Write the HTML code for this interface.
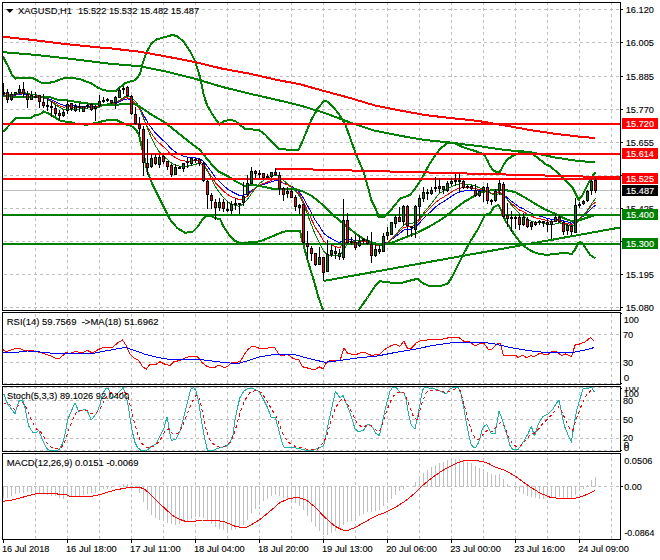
<!DOCTYPE html>
<html><head><meta charset="utf-8"><title>XAGUSD,H1</title>
<style>html,body{margin:0;padding:0;background:#fff;}svg{display:block;font-family:"Liberation Sans",sans-serif;}</style>
</head><body>
<svg width="660" height="560" viewBox="0 0 660 560">
<rect width="660" height="560" fill="#fff"/>
<g shape-rendering="crispEdges">
<line x1="35.5" y1="3" x2="35.5" y2="310" stroke="#c0c0c0" stroke-width="1" stroke-dasharray="3 3" stroke-dashoffset="1"/>
<line x1="67.5" y1="3" x2="67.5" y2="310" stroke="#c0c0c0" stroke-width="1" stroke-dasharray="3 3" stroke-dashoffset="1"/>
<line x1="99.5" y1="3" x2="99.5" y2="310" stroke="#c0c0c0" stroke-width="1" stroke-dasharray="3 3" stroke-dashoffset="1"/>
<line x1="131.5" y1="3" x2="131.5" y2="310" stroke="#c0c0c0" stroke-width="1" stroke-dasharray="3 3" stroke-dashoffset="1"/>
<line x1="163.5" y1="3" x2="163.5" y2="310" stroke="#c0c0c0" stroke-width="1" stroke-dasharray="3 3" stroke-dashoffset="1"/>
<line x1="195.5" y1="3" x2="195.5" y2="310" stroke="#c0c0c0" stroke-width="1" stroke-dasharray="3 3" stroke-dashoffset="1"/>
<line x1="227.5" y1="3" x2="227.5" y2="310" stroke="#c0c0c0" stroke-width="1" stroke-dasharray="3 3" stroke-dashoffset="1"/>
<line x1="259.5" y1="3" x2="259.5" y2="310" stroke="#c0c0c0" stroke-width="1" stroke-dasharray="3 3" stroke-dashoffset="1"/>
<line x1="291.5" y1="3" x2="291.5" y2="310" stroke="#c0c0c0" stroke-width="1" stroke-dasharray="3 3" stroke-dashoffset="1"/>
<line x1="323.5" y1="3" x2="323.5" y2="310" stroke="#c0c0c0" stroke-width="1" stroke-dasharray="3 3" stroke-dashoffset="1"/>
<line x1="355.5" y1="3" x2="355.5" y2="310" stroke="#c0c0c0" stroke-width="1" stroke-dasharray="3 3" stroke-dashoffset="1"/>
<line x1="387.5" y1="3" x2="387.5" y2="310" stroke="#c0c0c0" stroke-width="1" stroke-dasharray="3 3" stroke-dashoffset="1"/>
<line x1="419.5" y1="3" x2="419.5" y2="310" stroke="#c0c0c0" stroke-width="1" stroke-dasharray="3 3" stroke-dashoffset="1"/>
<line x1="451.5" y1="3" x2="451.5" y2="310" stroke="#c0c0c0" stroke-width="1" stroke-dasharray="3 3" stroke-dashoffset="1"/>
<line x1="483.5" y1="3" x2="483.5" y2="310" stroke="#c0c0c0" stroke-width="1" stroke-dasharray="3 3" stroke-dashoffset="1"/>
<line x1="515.5" y1="3" x2="515.5" y2="310" stroke="#c0c0c0" stroke-width="1" stroke-dasharray="3 3" stroke-dashoffset="1"/>
<line x1="547.5" y1="3" x2="547.5" y2="310" stroke="#c0c0c0" stroke-width="1" stroke-dasharray="3 3" stroke-dashoffset="1"/>
<line x1="579.5" y1="3" x2="579.5" y2="310" stroke="#c0c0c0" stroke-width="1" stroke-dasharray="3 3" stroke-dashoffset="1"/>
<line x1="611.5" y1="3" x2="611.5" y2="310" stroke="#c0c0c0" stroke-width="1" stroke-dasharray="3 3" stroke-dashoffset="1"/>
<line x1="35.5" y1="313" x2="35.5" y2="384" stroke="#c0c0c0" stroke-width="1" stroke-dasharray="3 3" stroke-dashoffset="5"/>
<line x1="67.5" y1="313" x2="67.5" y2="384" stroke="#c0c0c0" stroke-width="1" stroke-dasharray="3 3" stroke-dashoffset="5"/>
<line x1="99.5" y1="313" x2="99.5" y2="384" stroke="#c0c0c0" stroke-width="1" stroke-dasharray="3 3" stroke-dashoffset="5"/>
<line x1="131.5" y1="313" x2="131.5" y2="384" stroke="#c0c0c0" stroke-width="1" stroke-dasharray="3 3" stroke-dashoffset="5"/>
<line x1="163.5" y1="313" x2="163.5" y2="384" stroke="#c0c0c0" stroke-width="1" stroke-dasharray="3 3" stroke-dashoffset="5"/>
<line x1="195.5" y1="313" x2="195.5" y2="384" stroke="#c0c0c0" stroke-width="1" stroke-dasharray="3 3" stroke-dashoffset="5"/>
<line x1="227.5" y1="313" x2="227.5" y2="384" stroke="#c0c0c0" stroke-width="1" stroke-dasharray="3 3" stroke-dashoffset="5"/>
<line x1="259.5" y1="313" x2="259.5" y2="384" stroke="#c0c0c0" stroke-width="1" stroke-dasharray="3 3" stroke-dashoffset="5"/>
<line x1="291.5" y1="313" x2="291.5" y2="384" stroke="#c0c0c0" stroke-width="1" stroke-dasharray="3 3" stroke-dashoffset="5"/>
<line x1="323.5" y1="313" x2="323.5" y2="384" stroke="#c0c0c0" stroke-width="1" stroke-dasharray="3 3" stroke-dashoffset="5"/>
<line x1="355.5" y1="313" x2="355.5" y2="384" stroke="#c0c0c0" stroke-width="1" stroke-dasharray="3 3" stroke-dashoffset="5"/>
<line x1="387.5" y1="313" x2="387.5" y2="384" stroke="#c0c0c0" stroke-width="1" stroke-dasharray="3 3" stroke-dashoffset="5"/>
<line x1="419.5" y1="313" x2="419.5" y2="384" stroke="#c0c0c0" stroke-width="1" stroke-dasharray="3 3" stroke-dashoffset="5"/>
<line x1="451.5" y1="313" x2="451.5" y2="384" stroke="#c0c0c0" stroke-width="1" stroke-dasharray="3 3" stroke-dashoffset="5"/>
<line x1="483.5" y1="313" x2="483.5" y2="384" stroke="#c0c0c0" stroke-width="1" stroke-dasharray="3 3" stroke-dashoffset="5"/>
<line x1="515.5" y1="313" x2="515.5" y2="384" stroke="#c0c0c0" stroke-width="1" stroke-dasharray="3 3" stroke-dashoffset="5"/>
<line x1="547.5" y1="313" x2="547.5" y2="384" stroke="#c0c0c0" stroke-width="1" stroke-dasharray="3 3" stroke-dashoffset="5"/>
<line x1="579.5" y1="313" x2="579.5" y2="384" stroke="#c0c0c0" stroke-width="1" stroke-dasharray="3 3" stroke-dashoffset="5"/>
<line x1="611.5" y1="313" x2="611.5" y2="384" stroke="#c0c0c0" stroke-width="1" stroke-dasharray="3 3" stroke-dashoffset="5"/>
<line x1="35.5" y1="387" x2="35.5" y2="451" stroke="#c0c0c0" stroke-width="1" stroke-dasharray="3 3" stroke-dashoffset="1"/>
<line x1="67.5" y1="387" x2="67.5" y2="451" stroke="#c0c0c0" stroke-width="1" stroke-dasharray="3 3" stroke-dashoffset="1"/>
<line x1="99.5" y1="387" x2="99.5" y2="451" stroke="#c0c0c0" stroke-width="1" stroke-dasharray="3 3" stroke-dashoffset="1"/>
<line x1="131.5" y1="387" x2="131.5" y2="451" stroke="#c0c0c0" stroke-width="1" stroke-dasharray="3 3" stroke-dashoffset="1"/>
<line x1="163.5" y1="387" x2="163.5" y2="451" stroke="#c0c0c0" stroke-width="1" stroke-dasharray="3 3" stroke-dashoffset="1"/>
<line x1="195.5" y1="387" x2="195.5" y2="451" stroke="#c0c0c0" stroke-width="1" stroke-dasharray="3 3" stroke-dashoffset="1"/>
<line x1="227.5" y1="387" x2="227.5" y2="451" stroke="#c0c0c0" stroke-width="1" stroke-dasharray="3 3" stroke-dashoffset="1"/>
<line x1="259.5" y1="387" x2="259.5" y2="451" stroke="#c0c0c0" stroke-width="1" stroke-dasharray="3 3" stroke-dashoffset="1"/>
<line x1="291.5" y1="387" x2="291.5" y2="451" stroke="#c0c0c0" stroke-width="1" stroke-dasharray="3 3" stroke-dashoffset="1"/>
<line x1="323.5" y1="387" x2="323.5" y2="451" stroke="#c0c0c0" stroke-width="1" stroke-dasharray="3 3" stroke-dashoffset="1"/>
<line x1="355.5" y1="387" x2="355.5" y2="451" stroke="#c0c0c0" stroke-width="1" stroke-dasharray="3 3" stroke-dashoffset="1"/>
<line x1="387.5" y1="387" x2="387.5" y2="451" stroke="#c0c0c0" stroke-width="1" stroke-dasharray="3 3" stroke-dashoffset="1"/>
<line x1="419.5" y1="387" x2="419.5" y2="451" stroke="#c0c0c0" stroke-width="1" stroke-dasharray="3 3" stroke-dashoffset="1"/>
<line x1="451.5" y1="387" x2="451.5" y2="451" stroke="#c0c0c0" stroke-width="1" stroke-dasharray="3 3" stroke-dashoffset="1"/>
<line x1="483.5" y1="387" x2="483.5" y2="451" stroke="#c0c0c0" stroke-width="1" stroke-dasharray="3 3" stroke-dashoffset="1"/>
<line x1="515.5" y1="387" x2="515.5" y2="451" stroke="#c0c0c0" stroke-width="1" stroke-dasharray="3 3" stroke-dashoffset="1"/>
<line x1="547.5" y1="387" x2="547.5" y2="451" stroke="#c0c0c0" stroke-width="1" stroke-dasharray="3 3" stroke-dashoffset="1"/>
<line x1="579.5" y1="387" x2="579.5" y2="451" stroke="#c0c0c0" stroke-width="1" stroke-dasharray="3 3" stroke-dashoffset="1"/>
<line x1="611.5" y1="387" x2="611.5" y2="451" stroke="#c0c0c0" stroke-width="1" stroke-dasharray="3 3" stroke-dashoffset="1"/>
<line x1="35.5" y1="454" x2="35.5" y2="539" stroke="#c0c0c0" stroke-width="1" stroke-dasharray="3 3" stroke-dashoffset="2"/>
<line x1="67.5" y1="454" x2="67.5" y2="539" stroke="#c0c0c0" stroke-width="1" stroke-dasharray="3 3" stroke-dashoffset="2"/>
<line x1="99.5" y1="454" x2="99.5" y2="539" stroke="#c0c0c0" stroke-width="1" stroke-dasharray="3 3" stroke-dashoffset="2"/>
<line x1="131.5" y1="454" x2="131.5" y2="539" stroke="#c0c0c0" stroke-width="1" stroke-dasharray="3 3" stroke-dashoffset="2"/>
<line x1="163.5" y1="454" x2="163.5" y2="539" stroke="#c0c0c0" stroke-width="1" stroke-dasharray="3 3" stroke-dashoffset="2"/>
<line x1="195.5" y1="454" x2="195.5" y2="539" stroke="#c0c0c0" stroke-width="1" stroke-dasharray="3 3" stroke-dashoffset="2"/>
<line x1="227.5" y1="454" x2="227.5" y2="539" stroke="#c0c0c0" stroke-width="1" stroke-dasharray="3 3" stroke-dashoffset="2"/>
<line x1="259.5" y1="454" x2="259.5" y2="539" stroke="#c0c0c0" stroke-width="1" stroke-dasharray="3 3" stroke-dashoffset="2"/>
<line x1="291.5" y1="454" x2="291.5" y2="539" stroke="#c0c0c0" stroke-width="1" stroke-dasharray="3 3" stroke-dashoffset="2"/>
<line x1="323.5" y1="454" x2="323.5" y2="539" stroke="#c0c0c0" stroke-width="1" stroke-dasharray="3 3" stroke-dashoffset="2"/>
<line x1="355.5" y1="454" x2="355.5" y2="539" stroke="#c0c0c0" stroke-width="1" stroke-dasharray="3 3" stroke-dashoffset="2"/>
<line x1="387.5" y1="454" x2="387.5" y2="539" stroke="#c0c0c0" stroke-width="1" stroke-dasharray="3 3" stroke-dashoffset="2"/>
<line x1="419.5" y1="454" x2="419.5" y2="539" stroke="#c0c0c0" stroke-width="1" stroke-dasharray="3 3" stroke-dashoffset="2"/>
<line x1="451.5" y1="454" x2="451.5" y2="539" stroke="#c0c0c0" stroke-width="1" stroke-dasharray="3 3" stroke-dashoffset="2"/>
<line x1="483.5" y1="454" x2="483.5" y2="539" stroke="#c0c0c0" stroke-width="1" stroke-dasharray="3 3" stroke-dashoffset="2"/>
<line x1="515.5" y1="454" x2="515.5" y2="539" stroke="#c0c0c0" stroke-width="1" stroke-dasharray="3 3" stroke-dashoffset="2"/>
<line x1="547.5" y1="454" x2="547.5" y2="539" stroke="#c0c0c0" stroke-width="1" stroke-dasharray="3 3" stroke-dashoffset="2"/>
<line x1="579.5" y1="454" x2="579.5" y2="539" stroke="#c0c0c0" stroke-width="1" stroke-dasharray="3 3" stroke-dashoffset="2"/>
<line x1="611.5" y1="454" x2="611.5" y2="539" stroke="#c0c0c0" stroke-width="1" stroke-dasharray="3 3" stroke-dashoffset="2"/>
<line x1="3" y1="9.5" x2="620" y2="9.5" stroke="#c0c0c0" stroke-width="1" stroke-dasharray="3 3" stroke-dashoffset="5"/>
<line x1="3" y1="42.5" x2="620" y2="42.5" stroke="#c0c0c0" stroke-width="1" stroke-dasharray="3 3" stroke-dashoffset="5"/>
<line x1="3" y1="76.5" x2="620" y2="76.5" stroke="#c0c0c0" stroke-width="1" stroke-dasharray="3 3" stroke-dashoffset="5"/>
<line x1="3" y1="109.5" x2="620" y2="109.5" stroke="#c0c0c0" stroke-width="1" stroke-dasharray="3 3" stroke-dashoffset="5"/>
<line x1="3" y1="142.5" x2="620" y2="142.5" stroke="#c0c0c0" stroke-width="1" stroke-dasharray="3 3" stroke-dashoffset="5"/>
<line x1="3" y1="175.5" x2="620" y2="175.5" stroke="#c0c0c0" stroke-width="1" stroke-dasharray="3 3" stroke-dashoffset="5"/>
<line x1="3" y1="208.5" x2="620" y2="208.5" stroke="#c0c0c0" stroke-width="1" stroke-dasharray="3 3" stroke-dashoffset="5"/>
<line x1="3" y1="241.5" x2="620" y2="241.5" stroke="#c0c0c0" stroke-width="1" stroke-dasharray="3 3" stroke-dashoffset="5"/>
<line x1="3" y1="274.5" x2="620" y2="274.5" stroke="#c0c0c0" stroke-width="1" stroke-dasharray="3 3" stroke-dashoffset="5"/>
<line x1="3" y1="307.5" x2="620" y2="307.5" stroke="#c0c0c0" stroke-width="1" stroke-dasharray="3 3" stroke-dashoffset="5"/>
<line x1="3" y1="334.5" x2="620" y2="334.5" stroke="#c0c0c0" stroke-width="1" stroke-dasharray="3 3" stroke-dashoffset="5"/>
<line x1="3" y1="362.5" x2="620" y2="362.5" stroke="#c0c0c0" stroke-width="1" stroke-dasharray="3 3" stroke-dashoffset="5"/>
<line x1="3" y1="383.5" x2="620" y2="383.5" stroke="#c0c0c0" stroke-width="1" stroke-dasharray="3 3" stroke-dashoffset="5"/>
<line x1="3" y1="387.5" x2="620" y2="387.5" stroke="#c0c0c0" stroke-width="1" stroke-dasharray="3 3" stroke-dashoffset="5"/>
<line x1="3" y1="400.5" x2="620" y2="400.5" stroke="#c0c0c0" stroke-width="1" stroke-dasharray="3 3" stroke-dashoffset="5"/>
<line x1="3" y1="419.5" x2="620" y2="419.5" stroke="#c0c0c0" stroke-width="1" stroke-dasharray="3 3" stroke-dashoffset="5"/>
<line x1="3" y1="438.5" x2="620" y2="438.5" stroke="#c0c0c0" stroke-width="1" stroke-dasharray="3 3" stroke-dashoffset="5"/>
<line x1="3" y1="450.5" x2="620" y2="450.5" stroke="#c0c0c0" stroke-width="1" stroke-dasharray="3 3" stroke-dashoffset="5"/>
<line x1="3" y1="486.5" x2="620" y2="486.5" stroke="#c0c0c0" stroke-width="1" stroke-dasharray="3 3" stroke-dashoffset="5"/>
<line x1="3" y1="190.5" x2="620" y2="190.5" stroke="#c0c0c0" stroke-width="1" />
<rect x="3" y="486" width="1" height="12" fill="#c0c0c0"/>
<rect x="7" y="486" width="1" height="12" fill="#c0c0c0"/>
<rect x="11" y="486" width="1" height="10" fill="#c0c0c0"/>
<rect x="15" y="486" width="1" height="8" fill="#c0c0c0"/>
<rect x="19" y="486" width="1" height="7" fill="#c0c0c0"/>
<rect x="23" y="486" width="1" height="7" fill="#c0c0c0"/>
<rect x="27" y="486" width="1" height="6" fill="#c0c0c0"/>
<rect x="31" y="486" width="1" height="7" fill="#c0c0c0"/>
<rect x="35" y="486" width="1" height="8" fill="#c0c0c0"/>
<rect x="39" y="486" width="1" height="8" fill="#c0c0c0"/>
<rect x="43" y="486" width="1" height="8" fill="#c0c0c0"/>
<rect x="47" y="486" width="1" height="9" fill="#c0c0c0"/>
<rect x="51" y="486" width="1" height="10" fill="#c0c0c0"/>
<rect x="55" y="486" width="1" height="10" fill="#c0c0c0"/>
<rect x="59" y="486" width="1" height="12" fill="#c0c0c0"/>
<rect x="63" y="486" width="1" height="13" fill="#c0c0c0"/>
<rect x="67" y="486" width="1" height="11" fill="#c0c0c0"/>
<rect x="71" y="486" width="1" height="10" fill="#c0c0c0"/>
<rect x="75" y="486" width="1" height="10" fill="#c0c0c0"/>
<rect x="79" y="486" width="1" height="10" fill="#c0c0c0"/>
<rect x="83" y="486" width="1" height="9" fill="#c0c0c0"/>
<rect x="87" y="486" width="1" height="8" fill="#c0c0c0"/>
<rect x="91" y="486" width="1" height="7" fill="#c0c0c0"/>
<rect x="95" y="486" width="1" height="7" fill="#c0c0c0"/>
<rect x="99" y="486" width="1" height="5" fill="#c0c0c0"/>
<rect x="103" y="486" width="1" height="3" fill="#c0c0c0"/>
<rect x="107" y="486" width="1" height="3" fill="#c0c0c0"/>
<rect x="111" y="486" width="1" height="2" fill="#c0c0c0"/>
<rect x="123" y="484" width="1" height="3" fill="#c0c0c0"/>
<rect x="127" y="484" width="1" height="3" fill="#c0c0c0"/>
<rect x="135" y="486" width="1" height="2" fill="#c0c0c0"/>
<rect x="139" y="486" width="1" height="7" fill="#c0c0c0"/>
<rect x="143" y="486" width="1" height="16" fill="#c0c0c0"/>
<rect x="147" y="486" width="1" height="24" fill="#c0c0c0"/>
<rect x="151" y="486" width="1" height="29" fill="#c0c0c0"/>
<rect x="155" y="486" width="1" height="32" fill="#c0c0c0"/>
<rect x="159" y="486" width="1" height="34" fill="#c0c0c0"/>
<rect x="163" y="486" width="1" height="35" fill="#c0c0c0"/>
<rect x="167" y="486" width="1" height="37" fill="#c0c0c0"/>
<rect x="171" y="486" width="1" height="38" fill="#c0c0c0"/>
<rect x="175" y="486" width="1" height="39" fill="#c0c0c0"/>
<rect x="179" y="486" width="1" height="38" fill="#c0c0c0"/>
<rect x="183" y="486" width="1" height="36" fill="#c0c0c0"/>
<rect x="187" y="486" width="1" height="35" fill="#c0c0c0"/>
<rect x="191" y="486" width="1" height="33" fill="#c0c0c0"/>
<rect x="195" y="486" width="1" height="31" fill="#c0c0c0"/>
<rect x="199" y="486" width="1" height="31" fill="#c0c0c0"/>
<rect x="203" y="486" width="1" height="32" fill="#c0c0c0"/>
<rect x="207" y="486" width="1" height="35" fill="#c0c0c0"/>
<rect x="211" y="486" width="1" height="38" fill="#c0c0c0"/>
<rect x="215" y="486" width="1" height="41" fill="#c0c0c0"/>
<rect x="219" y="486" width="1" height="43" fill="#c0c0c0"/>
<rect x="223" y="486" width="1" height="44" fill="#c0c0c0"/>
<rect x="227" y="486" width="1" height="45" fill="#c0c0c0"/>
<rect x="231" y="486" width="1" height="44" fill="#c0c0c0"/>
<rect x="235" y="486" width="1" height="43" fill="#c0c0c0"/>
<rect x="239" y="486" width="1" height="41" fill="#c0c0c0"/>
<rect x="243" y="486" width="1" height="39" fill="#c0c0c0"/>
<rect x="247" y="486" width="1" height="34" fill="#c0c0c0"/>
<rect x="251" y="486" width="1" height="27" fill="#c0c0c0"/>
<rect x="255" y="486" width="1" height="23" fill="#c0c0c0"/>
<rect x="259" y="486" width="1" height="19" fill="#c0c0c0"/>
<rect x="263" y="486" width="1" height="15" fill="#c0c0c0"/>
<rect x="267" y="486" width="1" height="13" fill="#c0c0c0"/>
<rect x="271" y="486" width="1" height="10" fill="#c0c0c0"/>
<rect x="275" y="486" width="1" height="9" fill="#c0c0c0"/>
<rect x="279" y="486" width="1" height="10" fill="#c0c0c0"/>
<rect x="283" y="486" width="1" height="12" fill="#c0c0c0"/>
<rect x="287" y="486" width="1" height="14" fill="#c0c0c0"/>
<rect x="291" y="486" width="1" height="15" fill="#c0c0c0"/>
<rect x="295" y="486" width="1" height="17" fill="#c0c0c0"/>
<rect x="299" y="486" width="1" height="20" fill="#c0c0c0"/>
<rect x="303" y="486" width="1" height="24" fill="#c0c0c0"/>
<rect x="307" y="486" width="1" height="30" fill="#c0c0c0"/>
<rect x="311" y="486" width="1" height="36" fill="#c0c0c0"/>
<rect x="315" y="486" width="1" height="41" fill="#c0c0c0"/>
<rect x="319" y="486" width="1" height="45" fill="#c0c0c0"/>
<rect x="323" y="486" width="1" height="49" fill="#c0c0c0"/>
<rect x="327" y="486" width="1" height="49" fill="#c0c0c0"/>
<rect x="331" y="486" width="1" height="47" fill="#c0c0c0"/>
<rect x="335" y="486" width="1" height="45" fill="#c0c0c0"/>
<rect x="339" y="486" width="1" height="43" fill="#c0c0c0"/>
<rect x="343" y="486" width="1" height="39" fill="#c0c0c0"/>
<rect x="347" y="486" width="1" height="36" fill="#c0c0c0"/>
<rect x="351" y="486" width="1" height="35" fill="#c0c0c0"/>
<rect x="355" y="486" width="1" height="34" fill="#c0c0c0"/>
<rect x="359" y="486" width="1" height="30" fill="#c0c0c0"/>
<rect x="363" y="486" width="1" height="28" fill="#c0c0c0"/>
<rect x="367" y="486" width="1" height="26" fill="#c0c0c0"/>
<rect x="371" y="486" width="1" height="26" fill="#c0c0c0"/>
<rect x="375" y="486" width="1" height="25" fill="#c0c0c0"/>
<rect x="379" y="486" width="1" height="24" fill="#c0c0c0"/>
<rect x="383" y="486" width="1" height="20" fill="#c0c0c0"/>
<rect x="387" y="486" width="1" height="16" fill="#c0c0c0"/>
<rect x="391" y="486" width="1" height="13" fill="#c0c0c0"/>
<rect x="395" y="486" width="1" height="9" fill="#c0c0c0"/>
<rect x="399" y="486" width="1" height="5" fill="#c0c0c0"/>
<rect x="403" y="486" width="1" height="3" fill="#c0c0c0"/>
<rect x="415" y="482" width="1" height="5" fill="#c0c0c0"/>
<rect x="419" y="476" width="1" height="11" fill="#c0c0c0"/>
<rect x="423" y="473" width="1" height="14" fill="#c0c0c0"/>
<rect x="427" y="470" width="1" height="17" fill="#c0c0c0"/>
<rect x="431" y="467" width="1" height="20" fill="#c0c0c0"/>
<rect x="435" y="465" width="1" height="22" fill="#c0c0c0"/>
<rect x="439" y="463" width="1" height="24" fill="#c0c0c0"/>
<rect x="443" y="462" width="1" height="25" fill="#c0c0c0"/>
<rect x="447" y="460" width="1" height="27" fill="#c0c0c0"/>
<rect x="451" y="458" width="1" height="29" fill="#c0c0c0"/>
<rect x="455" y="459" width="1" height="28" fill="#c0c0c0"/>
<rect x="459" y="459" width="1" height="28" fill="#c0c0c0"/>
<rect x="463" y="460" width="1" height="27" fill="#c0c0c0"/>
<rect x="467" y="462" width="1" height="25" fill="#c0c0c0"/>
<rect x="471" y="463" width="1" height="24" fill="#c0c0c0"/>
<rect x="475" y="466" width="1" height="21" fill="#c0c0c0"/>
<rect x="479" y="468" width="1" height="19" fill="#c0c0c0"/>
<rect x="483" y="469" width="1" height="18" fill="#c0c0c0"/>
<rect x="487" y="472" width="1" height="15" fill="#c0c0c0"/>
<rect x="491" y="474" width="1" height="13" fill="#c0c0c0"/>
<rect x="495" y="475" width="1" height="12" fill="#c0c0c0"/>
<rect x="499" y="474" width="1" height="13" fill="#c0c0c0"/>
<rect x="503" y="479" width="1" height="8" fill="#c0c0c0"/>
<rect x="507" y="484" width="1" height="3" fill="#c0c0c0"/>
<rect x="515" y="486" width="1" height="3" fill="#c0c0c0"/>
<rect x="519" y="486" width="1" height="6" fill="#c0c0c0"/>
<rect x="523" y="486" width="1" height="8" fill="#c0c0c0"/>
<rect x="527" y="486" width="1" height="10" fill="#c0c0c0"/>
<rect x="531" y="486" width="1" height="11" fill="#c0c0c0"/>
<rect x="535" y="486" width="1" height="12" fill="#c0c0c0"/>
<rect x="539" y="486" width="1" height="13" fill="#c0c0c0"/>
<rect x="543" y="486" width="1" height="13" fill="#c0c0c0"/>
<rect x="547" y="486" width="1" height="12" fill="#c0c0c0"/>
<rect x="551" y="486" width="1" height="12" fill="#c0c0c0"/>
<rect x="555" y="486" width="1" height="12" fill="#c0c0c0"/>
<rect x="559" y="486" width="1" height="11" fill="#c0c0c0"/>
<rect x="563" y="486" width="1" height="12" fill="#c0c0c0"/>
<rect x="567" y="486" width="1" height="12" fill="#c0c0c0"/>
<rect x="571" y="486" width="1" height="12" fill="#c0c0c0"/>
<rect x="575" y="486" width="1" height="9" fill="#c0c0c0"/>
<rect x="579" y="486" width="1" height="5" fill="#c0c0c0"/>
<rect x="583" y="486" width="1" height="3" fill="#c0c0c0"/>
<rect x="587" y="485" width="1" height="2" fill="#c0c0c0"/>
<rect x="591" y="480" width="1" height="7" fill="#c0c0c0"/>
<rect x="595" y="477" width="1" height="10" fill="#c0c0c0"/>
</g>
<g shape-rendering="crispEdges" stroke-linejoin="round">
<clipPath id="cm"><rect x="3" y="3" width="617" height="307"/></clipPath>
<g clip-path="url(#cm)">
<polyline points="3.50,95.19 7.50,95.62 11.50,95.56 15.50,95.13 19.50,94.22 23.50,93.84 27.50,94.75 31.50,94.83 35.50,95.01 39.50,96.05 43.50,97.19 47.50,98.47 51.50,99.94 55.50,101.83 59.50,103.93 63.50,105.29 67.50,105.32 71.50,105.73 75.50,105.93 79.50,106.13 83.50,106.34 87.50,106.25 91.50,106.60 95.50,107.04 99.50,106.11 103.50,105.25 107.50,104.44 111.50,104.14 115.50,103.47 119.50,101.63 123.50,99.76 127.50,98.84 131.50,100.48 135.50,103.48 139.50,107.18 143.50,114.84 147.50,122.17 151.50,127.92 155.50,133.12 159.50,137.14 163.50,140.77 167.50,144.69 171.50,149.01 175.50,151.97 179.50,154.47 183.50,156.13 187.50,157.07 191.50,157.48 195.50,157.91 199.50,158.69 203.50,161.43 207.50,166.56 211.50,171.86 215.50,177.53 219.50,181.49 223.50,185.45 227.50,188.96 231.50,191.54 235.50,193.46 239.50,195.43 243.50,195.36 247.50,193.65 251.50,190.51 255.50,187.97 259.50,185.82 263.50,184.47 267.50,183.16 271.50,181.68 275.50,180.42 279.50,181.32 283.50,183.34 287.50,184.64 291.50,186.35 295.50,189.22 299.50,191.95 303.50,198.34 307.50,205.68 311.50,213.07 315.50,220.64 319.50,226.16 323.50,233.05 327.50,236.43 331.50,238.56 335.50,240.62 339.50,242.64 343.50,239.89 347.50,239.25 351.50,239.60 355.50,240.47 359.50,240.55 363.50,240.54 367.50,240.81 371.50,242.49 375.50,243.61 379.50,244.71 383.50,243.87 387.50,242.16 391.50,239.55 395.50,236.43 399.50,233.63 403.50,230.11 407.50,229.06 411.50,229.09 415.50,226.73 419.50,223.00 423.50,218.42 427.50,214.63 431.50,210.92 435.50,207.12 439.50,204.06 443.50,201.59 447.50,199.00 451.50,196.31 455.50,193.88 459.50,192.01 463.50,191.12 467.50,190.41 471.50,190.08 475.50,190.57 479.50,190.79 483.50,190.74 487.50,191.74 491.50,193.25 495.50,193.25 499.50,192.02 503.50,194.55 507.50,198.01 511.50,201.35 515.50,204.22 519.50,207.19 523.50,208.89 527.50,211.33 531.50,213.24 535.50,214.93 539.50,216.06 543.50,217.13 547.50,218.38 551.50,219.43 555.50,219.14 559.50,219.35 563.50,220.99 567.50,221.95 571.50,223.34 575.50,221.33 579.50,218.82 583.50,216.19 587.50,212.70 591.50,208.28 595.50,205.20" fill="none" stroke="#0000ff" stroke-width="1" />
<polyline points="3.50,94.70 7.50,95.36 11.50,95.34 15.50,94.82 19.50,93.71 23.50,93.32 27.50,94.60 31.50,94.73 35.50,94.99 39.50,96.34 43.50,97.77 47.50,99.32 51.50,101.05 55.50,103.29 59.50,105.73 63.50,107.14 67.50,106.81 71.50,107.05 75.50,107.04 79.50,107.08 83.50,107.16 87.50,106.88 91.50,107.21 95.50,107.66 99.50,106.33 103.50,105.17 107.50,104.13 111.50,103.81 115.50,102.99 119.50,100.70 123.50,98.46 127.50,97.52 131.50,99.91 135.50,103.93 139.50,108.64 143.50,118.32 147.50,127.15 151.50,133.62 155.50,139.25 159.50,143.25 163.50,146.75 167.50,150.65 171.50,155.07 175.50,157.71 179.50,159.81 183.50,160.90 187.50,161.17 191.50,160.89 195.50,160.76 199.50,161.21 203.50,164.27 207.50,170.36 211.50,176.49 215.50,182.94 219.50,187.00 223.50,191.05 227.50,194.49 231.50,196.74 235.50,198.20 239.50,199.81 243.50,198.84 247.50,195.93 251.50,191.39 255.50,187.91 259.50,185.13 263.50,183.50 267.50,182.00 271.50,180.30 275.50,178.94 279.50,180.40 283.50,183.22 287.50,184.93 291.50,187.09 295.50,190.67 299.50,193.94 303.50,201.85 307.50,210.68 311.50,219.29 315.50,227.89 319.50,233.61 323.50,241.09 327.50,243.87 331.50,245.15 335.50,246.52 339.50,247.96 343.50,243.32 347.50,241.81 351.50,241.75 355.50,242.45 359.50,242.16 363.50,241.83 367.50,241.91 371.50,243.88 375.50,245.05 379.50,246.19 383.50,244.80 387.50,242.39 391.50,238.96 395.50,235.02 399.50,231.67 403.50,227.48 407.50,226.64 411.50,227.16 415.50,224.48 419.50,220.08 423.50,214.72 427.50,210.52 431.50,206.52 435.50,202.46 439.50,199.42 443.50,197.14 447.50,194.66 451.50,192.03 455.50,189.72 459.50,188.13 463.50,187.75 467.50,187.50 471.50,187.65 475.50,188.77 479.50,189.42 483.50,189.63 487.50,191.16 491.50,193.23 495.50,193.23 499.50,191.63 503.50,195.01 507.50,199.41 511.50,203.47 515.50,206.78 519.50,210.12 523.50,211.75 527.50,214.35 531.50,216.23 535.50,217.83 539.50,218.72 543.50,219.57 547.50,220.71 551.50,221.62 555.50,220.79 559.50,220.73 563.50,222.59 567.50,223.52 571.50,225.02 575.50,222.06 579.50,218.65 583.50,215.27 587.50,210.92 591.50,205.53 595.50,202.08" fill="none" stroke="#ff0000" stroke-width="1" />
<polyline points="3.50,93.72 7.50,94.03 11.50,94.46 15.50,94.21 19.50,93.14 23.50,92.24 27.50,93.71 31.50,94.15 35.50,94.46 39.50,96.04 43.50,97.36 47.50,99.44 51.50,102.10 55.50,104.54 59.50,107.40 63.50,109.50 67.50,109.65 71.50,109.47 75.50,109.36 79.50,108.94 83.50,108.79 87.50,108.08 91.50,107.60 95.50,108.67 99.50,107.08 103.50,105.44 107.50,104.00 111.50,103.22 115.50,102.71 119.50,100.26 123.50,97.53 127.50,95.60 131.50,97.26 135.50,101.26 139.50,107.04 143.50,117.65 147.50,128.24 151.50,138.19 155.50,145.93 159.50,152.18 163.50,156.04 167.50,159.72 171.50,163.14 175.50,165.10 179.50,166.10 183.50,166.81 187.50,166.22 191.50,165.33 195.50,164.22 199.50,163.42 203.50,164.93 207.50,171.40 211.50,178.62 215.50,186.81 219.50,192.71 223.50,197.67 227.50,201.62 231.50,204.53 235.50,205.39 239.50,206.36 243.50,203.72 247.50,199.39 251.50,193.50 255.50,188.08 259.50,183.54 263.50,180.35 267.50,178.03 271.50,176.26 275.50,174.76 279.50,176.43 283.50,180.49 287.50,183.69 291.50,186.61 295.50,191.10 299.50,196.17 303.50,203.65 307.50,214.44 311.50,225.10 315.50,235.14 319.50,242.58 323.50,251.15 327.50,254.74 331.50,255.62 335.50,255.92 339.50,255.74 343.50,249.74 347.50,244.18 351.50,242.26 355.50,241.10 359.50,240.33 363.50,239.99 367.50,239.79 371.50,241.50 375.50,244.07 379.50,245.83 383.50,245.46 387.50,243.04 391.50,239.76 395.50,235.28 399.50,229.78 403.50,225.22 407.50,222.67 411.50,223.39 415.50,222.39 419.50,218.75 423.50,213.07 427.50,208.33 431.50,203.57 435.50,198.01 439.50,193.54 443.50,191.04 447.50,188.92 451.50,186.76 455.50,184.86 459.50,183.92 463.50,183.75 467.50,184.32 471.50,184.93 475.50,186.15 479.50,187.92 483.50,189.72 487.50,191.08 491.50,193.96 495.50,194.85 499.50,193.65 503.50,195.22 507.50,199.78 511.50,205.10 515.50,209.74 519.50,213.60 523.50,216.11 527.50,218.81 531.50,221.42 535.50,222.53 539.50,222.76 543.50,223.12 547.50,223.75 551.50,225.17 555.50,223.82 559.50,222.74 563.50,223.75 567.50,225.03 571.50,226.25 575.50,224.04 579.50,219.74 583.50,215.44 587.50,210.46 591.50,204.08 595.50,198.26" fill="none" stroke="#008000" stroke-width="1" />
<polyline points="3.00,56.70 8.30,66.70 12.00,75.00 15.80,78.60 21.70,77.50 30.00,78.00 33.30,78.30 42.40,83.20 48.50,82.90 54.50,81.70 64.00,78.00 72.70,78.00 80.00,79.00 83.30,80.50 90.50,82.90 97.80,87.70 103.90,90.20 111.00,91.40 116.00,90.80 119.60,87.70 124.50,83.50 129.30,81.70 134.00,80.50 136.60,78.60 140.00,74.00 142.50,63.75 146.25,52.50 151.25,43.75 156.25,39.50 165.00,37.00 172.50,35.00 177.50,36.25 183.75,42.00 190.00,51.25 195.00,61.25 198.75,72.50 201.25,82.50 203.75,95.00 207.00,105.00 211.25,112.50 216.25,120.00 219.50,124.50 223.75,121.25 228.75,120.00 235.00,120.75 240.00,125.00 245.00,128.75 252.50,129.50 258.75,130.00 265.00,134.50 272.50,142.50 278.75,148.75 290.00,150.00 298.75,149.50 302.00,142.50 305.00,135.00 311.25,120.00 317.50,108.75 323.75,101.25 326.25,100.75 331.25,105.00 338.75,113.75 345.00,123.75 350.00,137.50 356.25,155.00 363.75,172.50 368.75,190.00 371.25,200.00 376.25,210.00 378.75,217.00 383.75,217.50 388.75,212.50 395.00,205.00 400.00,198.75 410.00,195.00 415.00,188.75 420.00,181.25 423.75,175.00 427.50,167.50 431.25,161.25 435.00,155.60 438.75,150.60 442.50,146.90 446.25,143.75 450.00,142.50 453.75,142.90 457.50,144.75 462.50,146.90 467.50,148.75 473.75,150.60 481.00,153.10 483.50,154.40 485.40,156.90 487.25,160.00 489.10,164.40 491.00,167.50 492.90,170.00 494.75,171.25 497.25,172.10 499.75,171.90 501.00,169.75 502.25,167.50 504.10,164.00 506.00,161.25 508.50,158.75 511.00,156.90 513.50,155.40 516.00,154.40 519.00,153.10 523.50,152.50 529.75,152.75 533.50,154.40 537.25,157.50 541.00,160.60 546.00,164.40 550.00,166.25 557.50,172.50 565.00,180.00 572.50,187.50 576.25,195.00 578.75,200.00 582.50,195.00 587.50,185.00 591.25,177.50 595.50,172.00" fill="none" stroke="#008000" stroke-width="2" />
<polyline points="3.60,95.60 15.80,97.40 36.00,96.80 48.50,96.80 58.00,99.80 68.00,100.50 76.00,101.90 88.10,103.50 100.20,104.70 111.00,105.30 116.00,105.50 120.80,104.00 127.00,103.50 131.80,104.00 136.60,104.70 141.50,107.70 150.00,113.75 165.00,122.50 177.50,132.50 190.00,142.50 200.00,150.00 205.70,157.30 211.80,164.50 219.00,171.80 227.50,176.00 236.00,181.50 244.50,185.80 254.20,185.20 259.00,185.80 267.50,187.60 275.70,189.40 285.40,188.80 296.30,189.40 302.40,191.20 312.00,196.00 319.30,202.00 327.80,209.40 330.00,212.50 345.00,225.00 357.50,235.00 365.50,240.00 372.50,243.00 382.50,244.50 392.50,242.50 405.00,237.50 417.50,232.50 430.00,226.25 442.50,218.75 455.00,208.75 465.00,201.25 467.50,200.00 480.00,192.50 492.50,190.00 505.00,190.00 515.00,192.00 525.00,197.50 535.00,203.75 545.00,209.50 555.00,213.75 565.00,218.75 572.50,221.25 580.00,220.00 587.50,217.50 595.00,215.00" fill="none" stroke="#008000" stroke-width="2" />
<polyline points="3.00,132.00 9.70,124.70 15.80,118.00 31.50,117.70 35.00,115.00 40.00,114.40 43.60,111.40 48.50,113.50 53.30,116.20 60.60,121.00 71.50,122.30 76.00,124.00 87.00,124.70 96.60,122.90 103.90,120.80 111.00,119.80 116.00,119.60 119.60,121.70 124.50,124.00 129.30,125.30 133.00,127.00 136.60,130.80 139.00,135.00 142.00,148.00 144.80,159.70 147.50,172.00 152.50,184.50 158.75,197.00 165.00,209.50 170.00,219.50 177.50,228.25 185.00,232.75 192.50,232.00 197.50,227.00 202.50,219.50 206.25,215.50 211.25,215.50 215.00,218.25 220.00,219.00 223.75,227.00 228.75,234.50 235.00,240.75 238.75,242.75 255.40,242.30 262.70,240.30 268.70,237.90 276.00,234.80 283.00,231.80 290.00,230.75 300.00,230.75 302.00,239.50 305.00,250.75 309.00,265.00 314.60,283.00 318.00,296.00 323.75,312.00 358.00,312.00 358.75,310.00 367.50,297.50 375.00,286.25 380.00,281.25 390.00,282.50 400.00,283.25 407.50,281.25 417.50,278.75 422.50,283.00 430.00,286.25 440.00,286.25 447.50,283.75 452.50,276.25 457.50,266.25 465.00,251.25 470.00,242.00 477.50,230.00 485.00,215.00 490.00,213.30 494.00,207.00 498.20,205.00 501.20,210.00 505.30,220.50 510.40,228.60 516.60,237.80 522.70,245.00 531.00,251.00 539.00,254.00 547.30,254.80 557.50,253.60 565.70,253.00 571.80,254.00 574.90,250.00 578.00,243.00 580.00,242.00 583.00,244.00 586.00,249.00 590.20,255.00 595.30,258.30" fill="none" stroke="#008000" stroke-width="2" />
<polyline points="3.00,52.20 33.30,54.70 66.70,58.30 100.00,62.50 110.00,63.70 140.00,66.25 165.00,71.25 195.00,78.75 222.50,87.00 250.00,93.75 277.50,100.00 300.00,105.50 325.00,113.00 350.00,122.50 375.00,130.75 400.00,135.75 425.00,140.00 450.00,142.50 465.00,144.50 480.00,146.25 505.00,150.00 530.00,152.00 555.00,157.50 580.00,161.25 595.00,162.00" fill="none" stroke="#008000" stroke-width="2" />
<polyline points="3.00,36.70 33.00,40.00 66.70,44.20 100.00,47.50 110.00,48.30 140.00,51.75 165.00,56.25 195.00,62.00 222.50,68.75 250.00,73.75 277.50,80.00 300.00,84.25 325.00,91.25 350.00,98.00 375.00,105.50 400.00,110.50 425.00,115.00 450.00,118.00 465.00,119.50 480.00,121.25 505.00,125.50 530.00,130.00 555.00,133.75 580.00,136.75 595.00,138.00" fill="none" stroke="#ff0000" stroke-width="2" />
<line x1="3" y1="124" x2="620" y2="124" stroke="#ff0000" stroke-width="2" />
<line x1="3" y1="154" x2="620" y2="154" stroke="#ff0000" stroke-width="2" />
<line x1="3" y1="179" x2="620" y2="179" stroke="#ff0000" stroke-width="2" />
<line x1="3" y1="215" x2="620" y2="215" stroke="#008000" stroke-width="2" />
<line x1="3" y1="244" x2="620" y2="244" stroke="#008000" stroke-width="2" />
<line x1="275" y1="168.51" x2="620" y2="177.47" stroke="#ff0000" stroke-width="2"/>
<line x1="323.5" y1="281" x2="620" y2="227.5" stroke="#008000" stroke-width="2"/>
</g>
<polyline points="2.50,349.25 6.25,351.75 12.50,349.25 18.75,348.00 25.00,351.00 32.50,350.50 40.00,352.50 50.00,355.50 56.25,358.50 60.00,358.00 66.25,352.50 70.00,353.50 75.00,351.75 82.50,352.50 87.50,350.50 92.50,353.00 98.75,349.25 103.75,347.50 110.00,348.00 112.50,347.50 117.50,343.00 122.50,340.00 126.25,345.50 130.00,354.25 133.75,358.00 138.75,360.50 142.50,366.75 146.25,369.25 150.00,364.25 155.00,365.00 160.00,361.75 165.00,364.25 170.00,365.50 173.75,361.75 180.00,360.50 185.00,358.00 191.25,356.00 197.50,356.75 202.50,363.00 207.50,366.75 213.75,368.00 218.75,365.00 223.75,367.25 227.50,366.75 231.25,363.00 240.00,361.75 243.75,355.50 247.50,350.00 251.25,346.75 255.00,346.75 260.00,348.50 265.00,348.75 271.25,347.25 275.00,348.00 278.75,354.25 282.50,356.00 287.50,354.25 292.50,358.00 296.25,359.75 298.75,359.25 302.50,366.75 307.50,368.00 313.75,370.00 320.00,366.75 323.00,369.25 326.25,363.00 331.25,360.00 340.00,361.00 343.75,348.00 347.50,353.00 355.00,355.00 361.25,352.50 366.25,353.00 372.50,356.00 375.00,354.25 380.00,354.25 385.00,349.25 391.25,345.50 395.00,344.25 400.00,346.25 403.75,341.00 407.50,348.50 411.25,348.50 416.25,343.00 421.25,340.50 427.50,340.00 435.00,339.25 440.00,340.00 445.00,338.50 451.25,337.25 458.75,337.50 463.75,341.25 468.75,341.25 475.00,346.00 481.25,343.00 484.00,343.50 488.00,349.00 492.30,349.00 497.70,343.00 500.50,343.50 503.20,355.00 515.50,355.00 518.20,357.60 522.30,355.00 526.40,357.60 530.50,355.70 534.50,356.50 540.00,353.00 546.80,355.00 552.30,351.60 556.40,351.60 561.80,355.70 565.90,353.80 571.40,356.50 575.50,344.00 579.50,344.00 585.00,342.00 590.50,337.50 594.50,341.50" fill="none" stroke="#ff0000" stroke-width="1" />
<polyline points="2.50,352.50 15.00,352.50 27.50,351.00 37.50,351.75 50.00,353.00 65.00,353.75 80.00,353.00 95.00,353.00 105.00,351.00 115.00,349.25 125.00,347.50 135.00,350.50 145.00,354.25 155.00,356.75 165.00,358.75 172.50,359.75 185.00,359.25 202.50,359.75 217.50,361.75 230.00,363.00 240.00,363.00 250.00,360.00 260.00,356.75 272.50,354.75 285.00,354.25 295.00,354.75 305.00,357.50 315.00,360.00 325.00,362.25 340.00,360.50 357.50,358.00 377.50,356.00 395.00,352.50 415.00,349.25 432.50,345.50 450.00,343.00 465.00,342.25 485.00,342.50 496.40,344.30 510.00,347.50 526.40,350.30 542.70,352.20 559.00,352.50 572.70,352.50 583.60,350.30 594.50,347.50" fill="none" stroke="#0000ff" stroke-width="1" />
<polyline points="3.75,393.75 7.50,403.75 15.00,413.75 18.75,401.25 22.50,400.00 25.00,407.50 28.75,426.25 32.50,432.00 36.25,433.00 38.75,430.50 42.50,440.00 47.50,449.50 50.00,450.50 58.75,450.00 62.50,443.75 65.50,432.50 67.50,420.00 71.25,411.25 75.00,403.00 78.75,411.25 85.00,409.50 87.50,411.25 91.25,420.00 96.25,413.75 100.00,405.00 102.50,393.75 106.25,388.00 108.75,388.75 111.25,397.50 115.00,396.25 120.00,391.25 123.00,387.50 125.00,392.50 127.50,401.25 130.00,417.50 132.50,432.50 135.00,442.50 137.50,447.50 141.25,450.50 147.50,450.00 151.25,446.25 156.25,443.75 160.00,436.25 163.75,428.75 167.00,417.00 168.75,426.25 171.25,440.75 176.25,438.75 180.00,431.25 183.75,417.50 187.50,402.50 190.50,389.50 193.75,387.50 196.25,391.25 198.75,402.50 201.25,420.00 205.00,440.00 207.50,450.50 213.75,450.00 218.75,448.00 226.25,446.25 230.00,442.50 233.00,435.00 235.00,420.00 237.50,407.50 240.00,397.50 243.75,391.25 247.50,388.75 253.75,388.75 258.75,391.25 262.50,397.50 267.50,407.50 271.25,417.50 275.50,418.00 278.75,430.00 281.25,440.00 283.75,447.00 292.50,447.50 300.00,448.75 307.50,450.50 313.75,450.00 320.00,447.50 323.75,445.50 327.50,427.50 331.25,410.00 335.50,391.25 340.00,398.00 343.00,395.50 347.50,406.25 351.25,416.25 355.00,428.75 358.75,432.00 363.75,430.00 368.00,423.75 372.50,427.50 376.25,433.75 379.50,435.50 382.50,421.25 386.25,405.00 390.00,391.25 392.50,387.50 396.25,387.50 400.00,392.50 403.75,392.00 406.25,400.00 408.75,415.00 411.25,425.00 415.00,428.75 417.50,417.50 420.00,403.75 422.50,390.00 424.50,387.50 431.25,388.25 437.50,389.50 442.50,392.50 446.25,393.75 450.00,388.75 453.75,387.50 458.75,388.00 461.25,395.00 463.75,407.50 466.25,422.50 468.75,435.00 471.25,445.00 475.00,448.25 478.75,442.50 482.00,430.00 484.00,426.40 486.80,424.20 491.00,433.20 495.00,434.00 499.00,411.40 501.80,418.20 506.00,431.80 510.00,445.50 512.70,449.50 518.20,449.50 523.60,441.40 527.70,434.50 531.30,426.40 534.50,436.00 538.60,423.60 542.70,416.80 548.20,414.00 552.30,410.00 556.40,403.20 559.00,400.50 561.80,414.00 564.50,426.40 568.60,436.00 571.40,442.20 574.00,425.00 576.80,410.00 579.50,400.50 583.00,389.00 587.70,388.20 591.80,387.60 594.50,392.30" fill="none" stroke="#20b2aa" stroke-width="1" />
<polyline points="3.75,403.75 7.50,402.50 11.25,406.25 15.00,410.00 18.75,405.00 22.50,402.50 25.00,405.00 28.75,413.75 32.50,422.50 36.25,428.75 40.00,431.25 43.75,436.25 47.50,443.75 51.25,447.50 56.25,448.75 61.25,448.00 65.00,441.25 68.75,430.00 72.50,420.00 76.25,412.50 80.00,410.00 86.25,410.00 91.25,413.75 96.25,412.50 100.00,409.50 103.75,401.25 107.50,395.00 111.25,392.50 115.00,393.75 120.00,395.00 123.75,391.25 127.50,395.00 130.00,405.00 133.75,420.00 137.50,433.75 141.25,442.50 145.00,447.00 150.00,447.50 155.00,445.50 160.00,440.50 165.00,431.25 168.75,428.75 172.50,433.75 177.50,433.75 181.25,428.75 185.00,420.00 188.75,410.00 192.50,401.25 196.25,395.00 198.75,397.50 201.25,406.25 203.75,417.50 206.25,430.00 210.00,440.00 215.00,445.50 220.00,447.50 226.25,445.50 231.25,441.25 235.00,431.25 238.00,420.00 241.25,408.75 245.00,400.00 250.00,392.50 256.25,390.00 261.25,392.50 266.25,400.00 271.25,408.75 276.25,416.25 280.00,426.25 283.75,436.25 288.75,442.50 295.00,446.25 302.50,448.00 310.00,450.00 317.50,449.50 320.00,446.25 323.75,442.50 327.50,433.75 331.25,420.00 335.00,408.75 338.75,402.50 342.50,398.75 346.25,401.25 350.00,408.75 353.75,416.25 357.50,423.75 362.50,427.50 367.50,425.00 372.50,426.25 377.00,431.25 380.00,430.00 383.75,420.00 387.50,408.75 391.25,400.00 395.00,393.75 399.50,392.00 403.75,392.50 406.25,397.50 410.00,407.50 413.75,417.50 417.00,420.00 420.00,410.00 423.00,400.00 426.25,392.50 431.25,390.00 437.50,390.00 443.75,392.00 447.50,392.50 451.25,390.00 456.25,388.75 460.00,390.50 462.50,398.75 465.50,410.00 468.75,422.50 472.50,433.75 476.25,439.50 480.00,438.75 484.00,433.20 488.20,429.60 492.30,431.80 496.40,426.40 500.50,422.30 504.50,426.40 508.60,437.30 512.70,444.00 516.80,446.80 521.00,445.50 526.40,439.50 530.50,434.50 534.50,433.20 538.60,429.00 542.70,423.60 548.20,418.20 553.60,412.70 559.00,406.70 561.80,411.40 566.00,421.00 570.00,429.00 572.70,430.50 575.50,421.00 578.70,412.70 582.30,403.20 586.40,395.00 590.50,391.00 594.50,392.30" fill="none" stroke="#ff0000" stroke-width="1" stroke-dasharray="3 3"/>
<polyline points="3.30,501.20 12.50,500.00 21.70,497.50 37.50,493.30 56.70,493.30 58.30,494.50 65.80,494.70 70.00,496.30 91.70,496.30 100.00,494.50 115.00,490.00 130.00,487.30 140.00,487.30 145.00,489.50 152.50,496.25 162.50,506.25 172.50,515.50 180.00,519.50 187.50,522.00 195.00,521.25 202.50,520.00 215.00,520.00 225.00,522.00 235.00,526.25 241.25,527.50 247.50,527.00 255.00,522.50 260.00,519.50 270.00,511.25 280.00,502.50 290.00,498.25 298.75,497.50 306.25,500.00 315.00,507.00 325.00,517.50 335.00,526.25 342.50,530.00 347.50,530.50 355.00,527.50 365.00,522.00 375.00,516.25 385.00,512.50 395.00,507.50 405.00,501.25 415.00,493.00 421.70,486.30 431.70,478.00 440.00,472.20 448.30,467.20 456.70,463.00 465.00,460.50 473.30,460.50 481.70,461.30 488.30,463.30 495.00,467.20 503.30,469.70 510.00,473.00 516.70,477.20 523.30,482.20 531.70,488.00 540.00,493.00 550.00,497.20 558.30,498.30 575.00,498.30 581.70,496.70 588.30,493.80 595.00,490.50" fill="none" stroke="#ff0000" stroke-width="1" />
</g>
<g shape-rendering="crispEdges">
<rect x="3" y="83" width="1" height="12" fill="#000"/>
<rect x="2" y="92" width="3" height="2" fill="#000"/>
<rect x="7" y="89" width="1" height="14" fill="#000"/>
<rect x="6" y="92" width="3" height="8" fill="#000"/>
<rect x="7" y="93" width="1" height="6" fill="#ff0000"/>
<rect x="11" y="92" width="1" height="9" fill="#000"/>
<rect x="10" y="94" width="3" height="6" fill="#000"/>
<rect x="11" y="95" width="1" height="4" fill="#008000"/>
<rect x="15" y="92" width="1" height="3" fill="#000"/>
<rect x="14" y="92" width="3" height="3" fill="#000"/>
<rect x="15" y="93" width="1" height="1" fill="#008000"/>
<rect x="19" y="85" width="1" height="9" fill="#000"/>
<rect x="18" y="89" width="3" height="4" fill="#000"/>
<rect x="19" y="90" width="1" height="2" fill="#008000"/>
<rect x="23" y="82" width="1" height="15" fill="#000"/>
<rect x="22" y="89" width="3" height="5" fill="#000"/>
<rect x="23" y="90" width="1" height="3" fill="#ff0000"/>
<rect x="27" y="91" width="1" height="17" fill="#000"/>
<rect x="26" y="94" width="3" height="6" fill="#000"/>
<rect x="27" y="95" width="1" height="4" fill="#ff0000"/>
<rect x="31" y="91" width="1" height="9" fill="#000"/>
<rect x="30" y="95" width="3" height="5" fill="#000"/>
<rect x="31" y="96" width="1" height="3" fill="#008000"/>
<rect x="35" y="92" width="1" height="6" fill="#000"/>
<rect x="34" y="96" width="3" height="2" fill="#000"/>
<rect x="39" y="95" width="1" height="13" fill="#000"/>
<rect x="38" y="95" width="3" height="7" fill="#000"/>
<rect x="39" y="96" width="1" height="5" fill="#ff0000"/>
<rect x="43" y="94" width="1" height="14" fill="#000"/>
<rect x="42" y="102" width="3" height="4" fill="#000"/>
<rect x="43" y="103" width="1" height="2" fill="#ff0000"/>
<rect x="47" y="99" width="1" height="12" fill="#000"/>
<rect x="46" y="105" width="3" height="2" fill="#000"/>
<rect x="51" y="101" width="1" height="16" fill="#000"/>
<rect x="50" y="106" width="3" height="2" fill="#000"/>
<rect x="55" y="105" width="1" height="11" fill="#000"/>
<rect x="54" y="108" width="3" height="6" fill="#000"/>
<rect x="55" y="109" width="1" height="4" fill="#ff0000"/>
<rect x="59" y="110" width="1" height="10" fill="#000"/>
<rect x="58" y="113" width="3" height="3" fill="#000"/>
<rect x="59" y="114" width="1" height="1" fill="#ff0000"/>
<rect x="63" y="110" width="1" height="7" fill="#000"/>
<rect x="62" y="112" width="3" height="4" fill="#000"/>
<rect x="63" y="113" width="1" height="2" fill="#008000"/>
<rect x="67" y="100" width="1" height="14" fill="#000"/>
<rect x="66" y="104" width="3" height="7" fill="#000"/>
<rect x="67" y="105" width="1" height="5" fill="#008000"/>
<rect x="71" y="103" width="1" height="8" fill="#000"/>
<rect x="70" y="103" width="3" height="6" fill="#000"/>
<rect x="71" y="104" width="1" height="4" fill="#ff0000"/>
<rect x="75" y="104" width="1" height="8" fill="#000"/>
<rect x="74" y="106" width="3" height="5" fill="#000"/>
<rect x="75" y="107" width="1" height="3" fill="#008000"/>
<rect x="79" y="103" width="1" height="9" fill="#000"/>
<rect x="78" y="106" width="3" height="2" fill="#000"/>
<rect x="83" y="106" width="1" height="6" fill="#000"/>
<rect x="82" y="106" width="3" height="6" fill="#000"/>
<rect x="83" y="107" width="1" height="4" fill="#008000"/>
<rect x="87" y="104" width="1" height="5" fill="#000"/>
<rect x="86" y="105" width="3" height="2" fill="#000"/>
<rect x="91" y="103" width="1" height="8" fill="#000"/>
<rect x="90" y="104" width="3" height="6" fill="#000"/>
<rect x="91" y="105" width="1" height="4" fill="#ff0000"/>
<rect x="95" y="105" width="1" height="16" fill="#000"/>
<rect x="94" y="106" width="3" height="3" fill="#000"/>
<rect x="95" y="107" width="1" height="1" fill="#008000"/>
<rect x="99" y="95" width="1" height="12" fill="#000"/>
<rect x="98" y="101" width="3" height="5" fill="#000"/>
<rect x="99" y="102" width="1" height="3" fill="#008000"/>
<rect x="103" y="97" width="1" height="6" fill="#000"/>
<rect x="102" y="100" width="3" height="2" fill="#000"/>
<rect x="107" y="98" width="1" height="4" fill="#000"/>
<rect x="106" y="99" width="3" height="2" fill="#000"/>
<rect x="111" y="100" width="1" height="4" fill="#000"/>
<rect x="110" y="100" width="3" height="3" fill="#000"/>
<rect x="111" y="101" width="1" height="1" fill="#ff0000"/>
<rect x="115" y="96" width="1" height="13" fill="#000"/>
<rect x="114" y="97" width="3" height="6" fill="#000"/>
<rect x="115" y="98" width="1" height="4" fill="#008000"/>
<rect x="119" y="88" width="1" height="10" fill="#000"/>
<rect x="118" y="90" width="3" height="8" fill="#000"/>
<rect x="119" y="91" width="1" height="6" fill="#008000"/>
<rect x="123" y="86" width="1" height="8" fill="#000"/>
<rect x="122" y="88" width="3" height="2" fill="#000"/>
<rect x="127" y="86" width="1" height="11" fill="#000"/>
<rect x="126" y="87" width="3" height="9" fill="#000"/>
<rect x="127" y="88" width="1" height="7" fill="#ff0000"/>
<rect x="131" y="95" width="1" height="20" fill="#000"/>
<rect x="130" y="96" width="3" height="18" fill="#000"/>
<rect x="131" y="97" width="1" height="16" fill="#ff0000"/>
<rect x="135" y="107" width="1" height="18" fill="#000"/>
<rect x="134" y="114" width="3" height="10" fill="#000"/>
<rect x="135" y="115" width="1" height="8" fill="#ff0000"/>
<rect x="139" y="117" width="1" height="18" fill="#000"/>
<rect x="138" y="124" width="3" height="5" fill="#000"/>
<rect x="139" y="125" width="1" height="3" fill="#ff0000"/>
<rect x="143" y="126" width="1" height="50" fill="#000"/>
<rect x="142" y="129" width="3" height="34" fill="#000"/>
<rect x="143" y="130" width="1" height="32" fill="#ff0000"/>
<rect x="147" y="139" width="1" height="36" fill="#000"/>
<rect x="146" y="163" width="3" height="5" fill="#000"/>
<rect x="147" y="164" width="1" height="3" fill="#ff0000"/>
<rect x="151" y="154" width="1" height="14" fill="#000"/>
<rect x="150" y="158" width="3" height="9" fill="#000"/>
<rect x="151" y="159" width="1" height="7" fill="#008000"/>
<rect x="155" y="154" width="1" height="11" fill="#000"/>
<rect x="154" y="157" width="3" height="7" fill="#000"/>
<rect x="155" y="158" width="1" height="5" fill="#ff0000"/>
<rect x="159" y="155" width="1" height="13" fill="#000"/>
<rect x="158" y="157" width="3" height="8" fill="#000"/>
<rect x="159" y="158" width="1" height="6" fill="#008000"/>
<rect x="163" y="155" width="1" height="9" fill="#000"/>
<rect x="162" y="156" width="3" height="6" fill="#000"/>
<rect x="163" y="157" width="1" height="4" fill="#ff0000"/>
<rect x="167" y="161" width="1" height="9" fill="#000"/>
<rect x="166" y="161" width="3" height="6" fill="#000"/>
<rect x="167" y="162" width="1" height="4" fill="#ff0000"/>
<rect x="171" y="164" width="1" height="13" fill="#000"/>
<rect x="170" y="165" width="3" height="10" fill="#000"/>
<rect x="171" y="166" width="1" height="8" fill="#ff0000"/>
<rect x="175" y="164" width="1" height="11" fill="#000"/>
<rect x="174" y="167" width="3" height="8" fill="#000"/>
<rect x="175" y="168" width="1" height="6" fill="#008000"/>
<rect x="179" y="166" width="1" height="3" fill="#000"/>
<rect x="178" y="167" width="3" height="2" fill="#000"/>
<rect x="183" y="163" width="1" height="9" fill="#000"/>
<rect x="182" y="163" width="3" height="6" fill="#000"/>
<rect x="183" y="164" width="1" height="4" fill="#008000"/>
<rect x="187" y="157" width="1" height="11" fill="#000"/>
<rect x="186" y="161" width="3" height="2" fill="#000"/>
<rect x="191" y="157" width="1" height="9" fill="#000"/>
<rect x="190" y="158" width="3" height="6" fill="#000"/>
<rect x="191" y="159" width="1" height="4" fill="#008000"/>
<rect x="195" y="158" width="1" height="5" fill="#000"/>
<rect x="194" y="159" width="3" height="2" fill="#000"/>
<rect x="199" y="158" width="1" height="8" fill="#000"/>
<rect x="198" y="159" width="3" height="5" fill="#000"/>
<rect x="199" y="160" width="1" height="3" fill="#ff0000"/>
<rect x="203" y="162" width="1" height="20" fill="#000"/>
<rect x="202" y="163" width="3" height="18" fill="#000"/>
<rect x="203" y="164" width="1" height="16" fill="#ff0000"/>
<rect x="207" y="180" width="1" height="29" fill="#000"/>
<rect x="206" y="181" width="3" height="14" fill="#000"/>
<rect x="207" y="182" width="1" height="12" fill="#ff0000"/>
<rect x="211" y="193" width="1" height="16" fill="#000"/>
<rect x="210" y="195" width="3" height="6" fill="#000"/>
<rect x="211" y="196" width="1" height="4" fill="#ff0000"/>
<rect x="215" y="199" width="1" height="21" fill="#000"/>
<rect x="214" y="202" width="3" height="6" fill="#000"/>
<rect x="215" y="203" width="1" height="4" fill="#ff0000"/>
<rect x="219" y="198" width="1" height="13" fill="#000"/>
<rect x="218" y="202" width="3" height="6" fill="#000"/>
<rect x="219" y="203" width="1" height="4" fill="#008000"/>
<rect x="223" y="199" width="1" height="13" fill="#000"/>
<rect x="222" y="202" width="3" height="7" fill="#000"/>
<rect x="223" y="203" width="1" height="5" fill="#ff0000"/>
<rect x="227" y="201" width="1" height="11" fill="#000"/>
<rect x="226" y="209" width="3" height="2" fill="#000"/>
<rect x="231" y="201" width="1" height="13" fill="#000"/>
<rect x="230" y="204" width="3" height="7" fill="#000"/>
<rect x="231" y="205" width="1" height="5" fill="#008000"/>
<rect x="235" y="198" width="1" height="12" fill="#000"/>
<rect x="234" y="203" width="3" height="2" fill="#000"/>
<rect x="239" y="203" width="1" height="11" fill="#000"/>
<rect x="238" y="203" width="3" height="2" fill="#000"/>
<rect x="243" y="182" width="1" height="24" fill="#000"/>
<rect x="242" y="196" width="3" height="7" fill="#000"/>
<rect x="243" y="197" width="1" height="5" fill="#008000"/>
<rect x="247" y="175" width="1" height="21" fill="#000"/>
<rect x="246" y="183" width="3" height="12" fill="#000"/>
<rect x="247" y="184" width="1" height="10" fill="#008000"/>
<rect x="251" y="167" width="1" height="17" fill="#000"/>
<rect x="250" y="171" width="3" height="13" fill="#000"/>
<rect x="251" y="172" width="1" height="11" fill="#008000"/>
<rect x="255" y="170" width="1" height="8" fill="#000"/>
<rect x="254" y="171" width="3" height="3" fill="#000"/>
<rect x="255" y="172" width="1" height="1" fill="#ff0000"/>
<rect x="259" y="170" width="1" height="8" fill="#000"/>
<rect x="258" y="173" width="3" height="2" fill="#000"/>
<rect x="263" y="173" width="1" height="6" fill="#000"/>
<rect x="262" y="173" width="3" height="5" fill="#000"/>
<rect x="263" y="174" width="1" height="3" fill="#ff0000"/>
<rect x="267" y="174" width="1" height="4" fill="#000"/>
<rect x="266" y="176" width="3" height="2" fill="#000"/>
<rect x="271" y="172" width="1" height="6" fill="#000"/>
<rect x="270" y="172" width="3" height="5" fill="#000"/>
<rect x="271" y="173" width="1" height="3" fill="#008000"/>
<rect x="275" y="168" width="1" height="8" fill="#000"/>
<rect x="274" y="172" width="3" height="3" fill="#000"/>
<rect x="275" y="173" width="1" height="1" fill="#ff0000"/>
<rect x="279" y="172" width="1" height="23" fill="#000"/>
<rect x="278" y="175" width="3" height="14" fill="#000"/>
<rect x="279" y="176" width="1" height="12" fill="#ff0000"/>
<rect x="283" y="187" width="1" height="14" fill="#000"/>
<rect x="282" y="188" width="3" height="7" fill="#000"/>
<rect x="283" y="189" width="1" height="5" fill="#ff0000"/>
<rect x="287" y="187" width="1" height="11" fill="#000"/>
<rect x="286" y="191" width="3" height="3" fill="#000"/>
<rect x="287" y="192" width="1" height="1" fill="#008000"/>
<rect x="291" y="189" width="1" height="9" fill="#000"/>
<rect x="290" y="191" width="3" height="7" fill="#000"/>
<rect x="291" y="192" width="1" height="5" fill="#ff0000"/>
<rect x="295" y="195" width="1" height="16" fill="#000"/>
<rect x="294" y="197" width="3" height="10" fill="#000"/>
<rect x="295" y="198" width="1" height="8" fill="#ff0000"/>
<rect x="299" y="204" width="1" height="10" fill="#000"/>
<rect x="298" y="205" width="3" height="3" fill="#000"/>
<rect x="299" y="206" width="1" height="1" fill="#008000"/>
<rect x="303" y="204" width="1" height="40" fill="#000"/>
<rect x="302" y="204" width="3" height="39" fill="#000"/>
<rect x="303" y="205" width="1" height="37" fill="#ff0000"/>
<rect x="307" y="231" width="1" height="28" fill="#000"/>
<rect x="306" y="243" width="3" height="4" fill="#000"/>
<rect x="307" y="244" width="1" height="2" fill="#ff0000"/>
<rect x="311" y="246" width="1" height="15" fill="#000"/>
<rect x="310" y="248" width="3" height="6" fill="#000"/>
<rect x="311" y="249" width="1" height="4" fill="#ff0000"/>
<rect x="315" y="253" width="1" height="13" fill="#000"/>
<rect x="314" y="253" width="3" height="12" fill="#000"/>
<rect x="315" y="254" width="1" height="10" fill="#ff0000"/>
<rect x="319" y="247" width="1" height="18" fill="#000"/>
<rect x="318" y="257" width="3" height="8" fill="#000"/>
<rect x="319" y="258" width="1" height="6" fill="#008000"/>
<rect x="323" y="257" width="1" height="24" fill="#000"/>
<rect x="322" y="257" width="3" height="16" fill="#000"/>
<rect x="323" y="258" width="1" height="14" fill="#ff0000"/>
<rect x="327" y="240" width="1" height="32" fill="#000"/>
<rect x="326" y="254" width="3" height="18" fill="#000"/>
<rect x="327" y="255" width="1" height="16" fill="#008000"/>
<rect x="331" y="244" width="1" height="13" fill="#000"/>
<rect x="330" y="250" width="3" height="5" fill="#000"/>
<rect x="331" y="251" width="1" height="3" fill="#008000"/>
<rect x="335" y="247" width="1" height="12" fill="#000"/>
<rect x="334" y="251" width="3" height="3" fill="#000"/>
<rect x="335" y="252" width="1" height="1" fill="#008000"/>
<rect x="339" y="249" width="1" height="11" fill="#000"/>
<rect x="338" y="253" width="3" height="4" fill="#000"/>
<rect x="339" y="254" width="1" height="2" fill="#008000"/>
<rect x="343" y="199" width="1" height="61" fill="#000"/>
<rect x="342" y="220" width="3" height="38" fill="#000"/>
<rect x="343" y="221" width="1" height="36" fill="#008000"/>
<rect x="347" y="213" width="1" height="31" fill="#000"/>
<rect x="346" y="220" width="3" height="23" fill="#000"/>
<rect x="347" y="221" width="1" height="21" fill="#ff0000"/>
<rect x="351" y="237" width="1" height="8" fill="#000"/>
<rect x="350" y="241" width="3" height="2" fill="#000"/>
<rect x="355" y="235" width="1" height="15" fill="#000"/>
<rect x="354" y="242" width="3" height="6" fill="#000"/>
<rect x="355" y="243" width="1" height="4" fill="#ff0000"/>
<rect x="359" y="235" width="1" height="12" fill="#000"/>
<rect x="358" y="241" width="3" height="5" fill="#000"/>
<rect x="359" y="242" width="1" height="3" fill="#008000"/>
<rect x="363" y="238" width="1" height="6" fill="#000"/>
<rect x="362" y="239" width="3" height="2" fill="#000"/>
<rect x="367" y="236" width="1" height="9" fill="#000"/>
<rect x="366" y="240" width="3" height="4" fill="#000"/>
<rect x="367" y="241" width="1" height="2" fill="#ff0000"/>
<rect x="371" y="232" width="1" height="31" fill="#000"/>
<rect x="370" y="244" width="3" height="12" fill="#000"/>
<rect x="371" y="245" width="1" height="10" fill="#ff0000"/>
<rect x="375" y="244" width="1" height="13" fill="#000"/>
<rect x="374" y="249" width="3" height="7" fill="#000"/>
<rect x="375" y="250" width="1" height="5" fill="#008000"/>
<rect x="379" y="245" width="1" height="9" fill="#000"/>
<rect x="378" y="249" width="3" height="3" fill="#000"/>
<rect x="379" y="250" width="1" height="1" fill="#ff0000"/>
<rect x="383" y="233" width="1" height="19" fill="#000"/>
<rect x="382" y="236" width="3" height="16" fill="#000"/>
<rect x="383" y="237" width="1" height="14" fill="#008000"/>
<rect x="387" y="227" width="1" height="13" fill="#000"/>
<rect x="386" y="232" width="3" height="4" fill="#000"/>
<rect x="387" y="233" width="1" height="2" fill="#008000"/>
<rect x="391" y="222" width="1" height="13" fill="#000"/>
<rect x="390" y="222" width="3" height="13" fill="#000"/>
<rect x="391" y="223" width="1" height="11" fill="#008000"/>
<rect x="395" y="215" width="1" height="13" fill="#000"/>
<rect x="394" y="217" width="3" height="7" fill="#000"/>
<rect x="395" y="218" width="1" height="5" fill="#008000"/>
<rect x="399" y="207" width="1" height="15" fill="#000"/>
<rect x="398" y="217" width="3" height="5" fill="#000"/>
<rect x="399" y="218" width="1" height="3" fill="#ff0000"/>
<rect x="403" y="205" width="1" height="21" fill="#000"/>
<rect x="402" y="206" width="3" height="16" fill="#000"/>
<rect x="403" y="207" width="1" height="14" fill="#008000"/>
<rect x="407" y="205" width="1" height="31" fill="#000"/>
<rect x="406" y="206" width="3" height="20" fill="#000"/>
<rect x="407" y="207" width="1" height="18" fill="#ff0000"/>
<rect x="411" y="226" width="1" height="11" fill="#000"/>
<rect x="410" y="226" width="3" height="2" fill="#000"/>
<rect x="415" y="205" width="1" height="33" fill="#000"/>
<rect x="414" y="206" width="3" height="24" fill="#000"/>
<rect x="415" y="207" width="1" height="22" fill="#008000"/>
<rect x="419" y="195" width="1" height="24" fill="#000"/>
<rect x="418" y="198" width="3" height="9" fill="#000"/>
<rect x="419" y="199" width="1" height="7" fill="#008000"/>
<rect x="423" y="187" width="1" height="15" fill="#000"/>
<rect x="422" y="192" width="3" height="7" fill="#000"/>
<rect x="423" y="193" width="1" height="5" fill="#008000"/>
<rect x="427" y="189" width="1" height="11" fill="#000"/>
<rect x="426" y="192" width="3" height="2" fill="#000"/>
<rect x="431" y="187" width="1" height="8" fill="#000"/>
<rect x="430" y="190" width="3" height="4" fill="#000"/>
<rect x="431" y="191" width="1" height="2" fill="#008000"/>
<rect x="435" y="177" width="1" height="15" fill="#000"/>
<rect x="434" y="187" width="3" height="2" fill="#000"/>
<rect x="439" y="178" width="1" height="15" fill="#000"/>
<rect x="438" y="186" width="3" height="3" fill="#000"/>
<rect x="439" y="187" width="1" height="1" fill="#ff0000"/>
<rect x="443" y="186" width="1" height="8" fill="#000"/>
<rect x="442" y="186" width="3" height="4" fill="#000"/>
<rect x="443" y="187" width="1" height="2" fill="#008000"/>
<rect x="447" y="181" width="1" height="11" fill="#000"/>
<rect x="446" y="183" width="3" height="8" fill="#000"/>
<rect x="447" y="184" width="1" height="6" fill="#008000"/>
<rect x="451" y="178" width="1" height="8" fill="#000"/>
<rect x="450" y="181" width="3" height="3" fill="#000"/>
<rect x="451" y="182" width="1" height="1" fill="#008000"/>
<rect x="455" y="174" width="1" height="12" fill="#000"/>
<rect x="454" y="180" width="3" height="2" fill="#000"/>
<rect x="459" y="173" width="1" height="19" fill="#000"/>
<rect x="458" y="180" width="3" height="2" fill="#000"/>
<rect x="463" y="180" width="1" height="9" fill="#000"/>
<rect x="462" y="181" width="3" height="7" fill="#000"/>
<rect x="463" y="182" width="1" height="5" fill="#ff0000"/>
<rect x="467" y="185" width="1" height="4" fill="#000"/>
<rect x="466" y="186" width="3" height="2" fill="#000"/>
<rect x="471" y="185" width="1" height="5" fill="#000"/>
<rect x="470" y="186" width="3" height="3" fill="#000"/>
<rect x="471" y="187" width="1" height="1" fill="#ff0000"/>
<rect x="475" y="184" width="1" height="13" fill="#000"/>
<rect x="474" y="190" width="3" height="6" fill="#000"/>
<rect x="475" y="191" width="1" height="4" fill="#ff0000"/>
<rect x="479" y="189" width="1" height="8" fill="#000"/>
<rect x="478" y="191" width="3" height="5" fill="#000"/>
<rect x="479" y="192" width="1" height="3" fill="#008000"/>
<rect x="483" y="186" width="1" height="16" fill="#000"/>
<rect x="482" y="187" width="3" height="4" fill="#000"/>
<rect x="483" y="188" width="1" height="2" fill="#008000"/>
<rect x="487" y="183" width="1" height="21" fill="#000"/>
<rect x="486" y="187" width="3" height="14" fill="#000"/>
<rect x="487" y="188" width="1" height="12" fill="#ff0000"/>
<rect x="491" y="199" width="1" height="6" fill="#000"/>
<rect x="490" y="200" width="3" height="2" fill="#000"/>
<rect x="495" y="189" width="1" height="13" fill="#000"/>
<rect x="494" y="191" width="3" height="10" fill="#000"/>
<rect x="495" y="192" width="1" height="8" fill="#008000"/>
<rect x="499" y="180" width="1" height="15" fill="#000"/>
<rect x="498" y="183" width="3" height="8" fill="#000"/>
<rect x="499" y="184" width="1" height="6" fill="#008000"/>
<rect x="503" y="182" width="1" height="36" fill="#000"/>
<rect x="502" y="184" width="3" height="33" fill="#000"/>
<rect x="503" y="185" width="1" height="31" fill="#ff0000"/>
<rect x="507" y="203" width="1" height="24" fill="#000"/>
<rect x="506" y="215" width="3" height="4" fill="#000"/>
<rect x="507" y="216" width="1" height="2" fill="#ff0000"/>
<rect x="511" y="211" width="1" height="21" fill="#000"/>
<rect x="510" y="217" width="3" height="2" fill="#000"/>
<rect x="515" y="215" width="1" height="14" fill="#000"/>
<rect x="514" y="217" width="3" height="2" fill="#000"/>
<rect x="519" y="214" width="1" height="16" fill="#000"/>
<rect x="518" y="217" width="3" height="8" fill="#000"/>
<rect x="519" y="218" width="1" height="6" fill="#ff0000"/>
<rect x="523" y="213" width="1" height="13" fill="#000"/>
<rect x="522" y="217" width="3" height="8" fill="#000"/>
<rect x="523" y="218" width="1" height="6" fill="#008000"/>
<rect x="527" y="217" width="1" height="11" fill="#000"/>
<rect x="526" y="219" width="3" height="8" fill="#000"/>
<rect x="527" y="220" width="1" height="6" fill="#ff0000"/>
<rect x="531" y="221" width="1" height="9" fill="#000"/>
<rect x="530" y="222" width="3" height="5" fill="#000"/>
<rect x="531" y="223" width="1" height="3" fill="#008000"/>
<rect x="535" y="221" width="1" height="5" fill="#000"/>
<rect x="534" y="222" width="3" height="3" fill="#000"/>
<rect x="535" y="223" width="1" height="1" fill="#ff0000"/>
<rect x="539" y="220" width="1" height="5" fill="#000"/>
<rect x="538" y="221" width="3" height="2" fill="#000"/>
<rect x="543" y="221" width="1" height="6" fill="#000"/>
<rect x="542" y="221" width="3" height="2" fill="#000"/>
<rect x="547" y="219" width="1" height="13" fill="#000"/>
<rect x="546" y="222" width="3" height="3" fill="#000"/>
<rect x="547" y="223" width="1" height="1" fill="#ff0000"/>
<rect x="551" y="220" width="1" height="19" fill="#000"/>
<rect x="550" y="221" width="3" height="4" fill="#000"/>
<rect x="551" y="222" width="1" height="2" fill="#008000"/>
<rect x="555" y="214" width="1" height="8" fill="#000"/>
<rect x="554" y="217" width="3" height="5" fill="#000"/>
<rect x="555" y="218" width="1" height="3" fill="#008000"/>
<rect x="559" y="215" width="1" height="8" fill="#000"/>
<rect x="558" y="217" width="3" height="5" fill="#000"/>
<rect x="559" y="218" width="1" height="3" fill="#ff0000"/>
<rect x="563" y="221" width="1" height="14" fill="#000"/>
<rect x="562" y="222" width="3" height="10" fill="#000"/>
<rect x="563" y="223" width="1" height="8" fill="#ff0000"/>
<rect x="567" y="224" width="1" height="11" fill="#000"/>
<rect x="566" y="225" width="3" height="6" fill="#000"/>
<rect x="567" y="226" width="1" height="4" fill="#008000"/>
<rect x="571" y="225" width="1" height="10" fill="#000"/>
<rect x="570" y="226" width="3" height="6" fill="#000"/>
<rect x="571" y="227" width="1" height="4" fill="#ff0000"/>
<rect x="575" y="198" width="1" height="35" fill="#000"/>
<rect x="574" y="205" width="3" height="28" fill="#000"/>
<rect x="575" y="206" width="1" height="26" fill="#008000"/>
<rect x="579" y="202" width="1" height="6" fill="#000"/>
<rect x="578" y="204" width="3" height="2" fill="#000"/>
<rect x="583" y="200" width="1" height="5" fill="#000"/>
<rect x="582" y="201" width="3" height="3" fill="#000"/>
<rect x="583" y="202" width="1" height="1" fill="#008000"/>
<rect x="587" y="190" width="1" height="12" fill="#000"/>
<rect x="586" y="191" width="3" height="10" fill="#000"/>
<rect x="587" y="192" width="1" height="8" fill="#008000"/>
<rect x="591" y="179" width="1" height="16" fill="#000"/>
<rect x="590" y="181" width="3" height="10" fill="#000"/>
<rect x="591" y="182" width="1" height="8" fill="#008000"/>
<rect x="595" y="178" width="1" height="15" fill="#000"/>
<rect x="594" y="180" width="3" height="11" fill="#000"/>
<rect x="595" y="181" width="1" height="9" fill="#ff0000"/>
</g>
<g shape-rendering="crispEdges" fill="none" stroke="#000" stroke-width="1">
<rect x="2.5" y="2.5" width="618" height="308"/>
<rect x="2.5" y="312.5" width="618" height="72"/>
<rect x="2.5" y="386.5" width="618" height="65"/>
<rect x="2.5" y="453.5" width="618" height="86"/>
</g>
<g shape-rendering="crispEdges">
<rect x="621" y="9" width="2" height="1" fill="#000"/>
<rect x="621" y="42" width="2" height="1" fill="#000"/>
<rect x="621" y="76" width="2" height="1" fill="#000"/>
<rect x="621" y="109" width="2" height="1" fill="#000"/>
<rect x="621" y="142" width="2" height="1" fill="#000"/>
<rect x="621" y="175" width="2" height="1" fill="#000"/>
<rect x="621" y="208" width="2" height="1" fill="#000"/>
<rect x="621" y="241" width="2" height="1" fill="#000"/>
<rect x="621" y="274" width="2" height="1" fill="#000"/>
<rect x="621" y="307" width="2" height="1" fill="#000"/>
<rect x="621" y="313" width="1" height="1" fill="#000"/>
<rect x="621" y="383" width="1" height="1" fill="#000"/>
<rect x="621" y="388" width="1" height="1" fill="#000"/>
<rect x="621" y="450" width="1" height="1" fill="#000"/>
<rect x="621" y="486" width="2" height="1" fill="#000"/>
<rect x="3" y="540" width="1" height="3" fill="#000"/>
<rect x="67" y="540" width="1" height="3" fill="#000"/>
<rect x="131" y="540" width="1" height="3" fill="#000"/>
<rect x="195" y="540" width="1" height="3" fill="#000"/>
<rect x="259" y="540" width="1" height="3" fill="#000"/>
<rect x="323" y="540" width="1" height="3" fill="#000"/>
<rect x="387" y="540" width="1" height="3" fill="#000"/>
<rect x="451" y="540" width="1" height="3" fill="#000"/>
<rect x="515" y="540" width="1" height="3" fill="#000"/>
<rect x="579" y="540" width="1" height="3" fill="#000"/>
</g>
<g font-family="'Liberation Sans', sans-serif">
<clipPath id="cs"><rect x="621" y="387" width="39" height="64"/></clipPath>
<text x="625.71" y="12.94" fill="#000" stroke="#000" stroke-width="0.12" font-size="9.6" textLength="28.20" lengthAdjust="spacingAndGlyphs" xml:space="preserve">16.120</text>
<text x="625.71" y="45.94" fill="#000" stroke="#000" stroke-width="0.12" font-size="9.6" textLength="28.25" lengthAdjust="spacingAndGlyphs" xml:space="preserve">16.005</text>
<text x="625.71" y="79.94" fill="#000" stroke="#000" stroke-width="0.12" font-size="9.6" textLength="28.25" lengthAdjust="spacingAndGlyphs" xml:space="preserve">15.885</text>
<text x="625.71" y="112.94" fill="#000" stroke="#000" stroke-width="0.12" font-size="9.6" textLength="28.20" lengthAdjust="spacingAndGlyphs" xml:space="preserve">15.770</text>
<text x="625.71" y="145.94" fill="#000" stroke="#000" stroke-width="0.12" font-size="9.6" textLength="28.25" lengthAdjust="spacingAndGlyphs" xml:space="preserve">15.655</text>
<text x="625.71" y="178.94" fill="#000" stroke="#000" stroke-width="0.12" font-size="9.6" textLength="28.20" lengthAdjust="spacingAndGlyphs" xml:space="preserve">15.540</text>
<text x="625.71" y="211.94" fill="#000" stroke="#000" stroke-width="0.12" font-size="9.6" textLength="28.25" lengthAdjust="spacingAndGlyphs" xml:space="preserve">15.425</text>
<text x="625.71" y="244.94" fill="#000" stroke="#000" stroke-width="0.12" font-size="9.6" textLength="28.20" lengthAdjust="spacingAndGlyphs" xml:space="preserve">15.310</text>
<text x="625.71" y="277.94" fill="#000" stroke="#000" stroke-width="0.12" font-size="9.6" textLength="28.25" lengthAdjust="spacingAndGlyphs" xml:space="preserve">15.195</text>
<text x="625.71" y="310.94" fill="#000" stroke="#000" stroke-width="0.12" font-size="9.6" textLength="28.20" lengthAdjust="spacingAndGlyphs" xml:space="preserve">15.080</text>
<rect x="622" y="118" width="36" height="11" fill="#ff0000"/>
<text x="625.91" y="126.94" fill="#fff" stroke="#fff" stroke-width="0.12" font-size="9.6" textLength="28.10" lengthAdjust="spacingAndGlyphs" xml:space="preserve">15.720</text>
<rect x="622" y="148" width="36" height="11" fill="#ff0000"/>
<text x="625.91" y="156.94" fill="#fff" stroke="#fff" stroke-width="0.12" font-size="9.6" textLength="28.00" lengthAdjust="spacingAndGlyphs" xml:space="preserve">15.614</text>
<rect x="622" y="173" width="36" height="11" fill="#ff0000"/>
<text x="625.91" y="181.94" fill="#fff" stroke="#fff" stroke-width="0.12" font-size="9.6" textLength="28.15" lengthAdjust="spacingAndGlyphs" xml:space="preserve">15.525</text>
<rect x="622" y="185" width="36" height="11" fill="#000"/>
<text x="625.91" y="193.94" fill="#fff" stroke="#fff" stroke-width="0.12" font-size="9.6" textLength="28.24" lengthAdjust="spacingAndGlyphs" xml:space="preserve">15.487</text>
<rect x="622" y="209" width="36" height="11" fill="#008000"/>
<text x="625.91" y="217.94" fill="#fff" stroke="#fff" stroke-width="0.12" font-size="9.6" textLength="28.10" lengthAdjust="spacingAndGlyphs" xml:space="preserve">15.400</text>
<rect x="622" y="238" width="36" height="11" fill="#008000"/>
<text x="625.91" y="246.94" fill="#fff" stroke="#fff" stroke-width="0.12" font-size="9.6" textLength="28.10" lengthAdjust="spacingAndGlyphs" xml:space="preserve">15.300</text>
<text x="623.72" y="322.94" fill="#000" stroke="#000" stroke-width="0.12" font-size="9.6" textLength="15.24" lengthAdjust="spacingAndGlyphs" xml:space="preserve">100</text>
<text x="622.94" y="337.94" fill="#000" stroke="#000" stroke-width="0.12" font-size="9.6" textLength="10.31" lengthAdjust="spacingAndGlyphs" xml:space="preserve">70</text>
<text x="623.03" y="365.94" fill="#000" stroke="#000" stroke-width="0.12" font-size="9.6" textLength="10.21" lengthAdjust="spacingAndGlyphs" xml:space="preserve">30</text>
<text x="623.81" y="380.84" fill="#000" stroke="#000" stroke-width="0.12" font-size="9.6" textLength="5.45" lengthAdjust="spacingAndGlyphs" xml:space="preserve">0</text>
<text x="623.72" y="391.44" fill="#000" stroke="#000" stroke-width="0.12" font-size="9.6" textLength="15.24" lengthAdjust="spacingAndGlyphs" clip-path="url(#cs)" xml:space="preserve">100</text>
<text x="623.72" y="396.94" fill="#000" stroke="#000" stroke-width="0.12" font-size="9.6" textLength="15.24" lengthAdjust="spacingAndGlyphs" clip-path="url(#cs)" xml:space="preserve">100</text>
<text x="623.03" y="403.94" fill="#000" stroke="#000" stroke-width="0.12" font-size="9.6" textLength="10.21" lengthAdjust="spacingAndGlyphs" clip-path="url(#cs)" xml:space="preserve">80</text>
<text x="623.03" y="422.74" fill="#000" stroke="#000" stroke-width="0.12" font-size="9.6" textLength="10.21" lengthAdjust="spacingAndGlyphs" clip-path="url(#cs)" xml:space="preserve">50</text>
<text x="622.94" y="441.44" fill="#000" stroke="#000" stroke-width="0.12" font-size="9.6" textLength="10.31" lengthAdjust="spacingAndGlyphs" clip-path="url(#cs)" xml:space="preserve">20</text>
<text x="623.81" y="447.74" fill="#000" stroke="#000" stroke-width="0.12" font-size="9.6" textLength="5.45" lengthAdjust="spacingAndGlyphs" clip-path="url(#cs)" xml:space="preserve">0</text>
<text x="623.81" y="451.04" fill="#000" stroke="#000" stroke-width="0.12" font-size="9.6" textLength="5.45" lengthAdjust="spacingAndGlyphs" clip-path="url(#cs)" xml:space="preserve">0</text>
<text x="624.13" y="464.04" fill="#000" stroke="#000" stroke-width="0.12" font-size="9.6" textLength="28.33" lengthAdjust="spacingAndGlyphs" xml:space="preserve">0.0506</text>
<text x="624.14" y="490.24" fill="#000" stroke="#000" stroke-width="0.12" font-size="9.6" textLength="17.59" lengthAdjust="spacingAndGlyphs" xml:space="preserve">0.00</text>
<text x="624.40" y="536.24" fill="#000" stroke="#000" stroke-width="0.12" font-size="9.6" textLength="30.04" lengthAdjust="spacingAndGlyphs" xml:space="preserve">-0.0864</text>
<path d="M6 9 L13.5 9 L9.75 13 Z" fill="#000"/>
<text x="17.97" y="14.04" fill="#000" stroke="#000" stroke-width="0.12" font-size="9.6" textLength="53.95" lengthAdjust="spacingAndGlyphs" xml:space="preserve">XAGUSD,H1</text>
<text x="78.00" y="14.04" fill="#000" stroke="#000" stroke-width="0.12" font-size="9.6" textLength="121.19" lengthAdjust="spacingAndGlyphs" xml:space="preserve">15.522 15.532 15.482 15.487</text>
<text x="6.74" y="325.04" fill="#000" stroke="#000" stroke-width="0.12" font-size="9.6" textLength="151.75" lengthAdjust="spacingAndGlyphs" xml:space="preserve">RSI(14) 59.7569  -&gt;MA(18) 51.6962</text>
<text x="7.08" y="399.04" fill="#000" stroke="#000" stroke-width="0.12" font-size="9.6" textLength="122.06" lengthAdjust="spacingAndGlyphs" xml:space="preserve">Stoch(5,3,3) 89.1026 92.0400</text>
<text x="6.74" y="466.04" fill="#000" stroke="#000" stroke-width="0.12" font-size="9.6" textLength="131.71" lengthAdjust="spacingAndGlyphs" xml:space="preserve">MACD(12,26,9) 0.0151 -0.0069</text>
<text x="1.91" y="551.64" fill="#000" stroke="#000" stroke-width="0.12" font-size="9.6" textLength="47.46" lengthAdjust="spacingAndGlyphs" xml:space="preserve">16 Jul 2018</text>
<text x="65.90" y="551.64" fill="#000" stroke="#000" stroke-width="0.12" font-size="9.6" textLength="50.92" lengthAdjust="spacingAndGlyphs" xml:space="preserve">16 Jul 18:00</text>
<text x="129.89" y="551.64" fill="#000" stroke="#000" stroke-width="0.12" font-size="9.6" textLength="50.94" lengthAdjust="spacingAndGlyphs" xml:space="preserve">17 Jul 11:00</text>
<text x="193.90" y="551.64" fill="#000" stroke="#000" stroke-width="0.12" font-size="9.6" textLength="50.92" lengthAdjust="spacingAndGlyphs" xml:space="preserve">18 Jul 04:00</text>
<text x="257.90" y="551.64" fill="#000" stroke="#000" stroke-width="0.12" font-size="9.6" textLength="50.92" lengthAdjust="spacingAndGlyphs" xml:space="preserve">18 Jul 20:00</text>
<text x="321.90" y="551.64" fill="#000" stroke="#000" stroke-width="0.12" font-size="9.6" textLength="50.92" lengthAdjust="spacingAndGlyphs" xml:space="preserve">19 Jul 13:00</text>
<text x="386.13" y="551.64" fill="#000" stroke="#000" stroke-width="0.12" font-size="9.6" textLength="50.68" lengthAdjust="spacingAndGlyphs" xml:space="preserve">20 Jul 06:00</text>
<text x="450.13" y="551.64" fill="#000" stroke="#000" stroke-width="0.12" font-size="9.6" textLength="50.68" lengthAdjust="spacingAndGlyphs" xml:space="preserve">23 Jul 00:00</text>
<text x="514.13" y="551.64" fill="#000" stroke="#000" stroke-width="0.12" font-size="9.6" textLength="50.68" lengthAdjust="spacingAndGlyphs" xml:space="preserve">23 Jul 16:00</text>
<text x="578.13" y="551.64" fill="#000" stroke="#000" stroke-width="0.12" font-size="9.6" textLength="50.68" lengthAdjust="spacingAndGlyphs" xml:space="preserve">24 Jul 09:00</text>
</g>
</svg>
</body></html>
